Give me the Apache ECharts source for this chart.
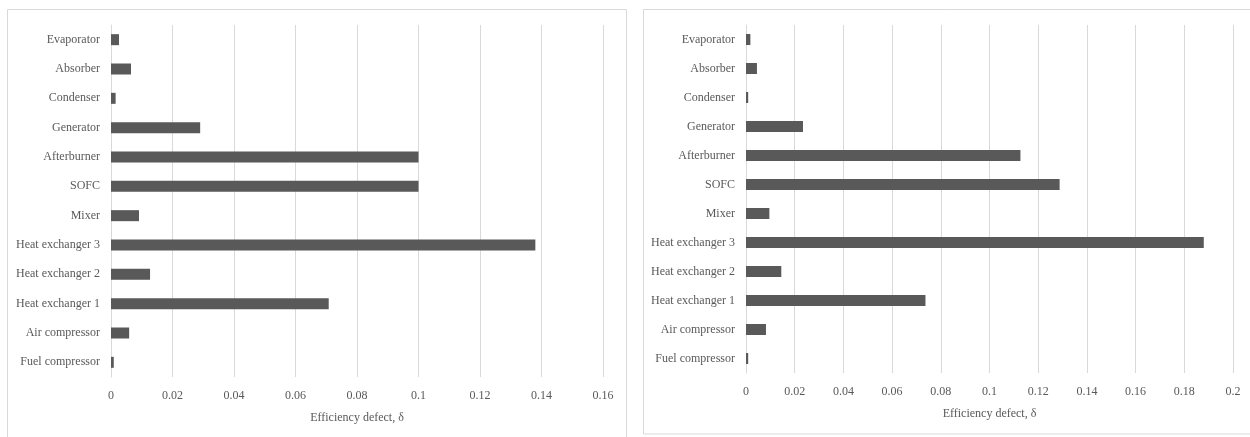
<!DOCTYPE html>
<html>
<head>
<meta charset="utf-8">
<script src="https://cdn.jsdelivr.net/npm/echarts@6/dist/echarts.min.js"></script>
<style>
html,body{margin:0;padding:0;background:#fff;}
#chart{width:1250px;height:437px;}
</style>
</head>
<body>
<div id="chart"></div>
<script>
const categories = ["Evaporator","Absorber","Condenser","Generator","Afterburner","SOFC","Mixer","Heat exchanger 3","Heat exchanger 2","Heat exchanger 1","Air compressor","Fuel compressor"];
const leftValues = [0.0026,0.0065,0.0015,0.029,0.1,0.1,0.0091,0.138,0.0127,0.0708,0.0059,0.0009];
const rightValues = [0.0018,0.0045,0.0009,0.0234,0.1127,0.1288,0.0096,0.188,0.0145,0.0737,0.0082,0.0009];
const axisTitle = "Efficiency defect, δ";
const leftMax = 0.16, rightMax = 0.2, tickStep = 0.02;

const FONT = "'Liberation Serif', serif";
const TXT = "#595959";
const GRID = "#d9d9d9";
const BAR = "#595959";

function xAxis(gridIndex, max, nameGap){
  return {
    type:'value', gridIndex, min:0, max, interval:tickStep,
    axisLine:{show:false}, axisTick:{show:false},
    splitLine:{lineStyle:{color:GRID,width:1}},
    axisLabel:{color:TXT,fontFamily:FONT,fontSize:12,margin:13},
    name:axisTitle, nameLocation:'middle', nameGap,
    nameTextStyle:{color:TXT,fontFamily:FONT,fontSize:12}
  };
}
function yAxis(gridIndex){
  return {
    type:'category', gridIndex, data:categories, inverse:true,
    axisLine:{show:true,lineStyle:{color:GRID}}, axisTick:{show:false},
    axisLabel:{color:TXT,fontFamily:FONT,fontSize:12,margin:11}
  };
}
const chart = echarts.init(document.getElementById('chart'));
chart.setOption({
  animation:false,
  backgroundColor:'#fff',
  graphic:[
    {type:'rect',shape:{x:7.5,y:9.5,width:619,height:440},style:{fill:'none',stroke:GRID,lineWidth:1},z:-1},
    {type:'rect',shape:{x:643.5,y:9.5,width:620,height:424.5},style:{fill:'none',stroke:GRID,lineWidth:1},z:-1}
  ],
  grid:[
    {left:111,width:492,top:25,height:352},
    {left:746,width:487,top:25,height:348}
  ],
  xAxis:[xAxis(0,leftMax,35),xAxis(1,rightMax,35)],
  yAxis:[yAxis(0),yAxis(1)],
  series:[
    {type:'bar',xAxisIndex:0,yAxisIndex:0,data:leftValues,barWidth:11,itemStyle:{color:BAR}},
    {type:'bar',xAxisIndex:1,yAxisIndex:1,data:rightValues,barWidth:11,itemStyle:{color:BAR}}
  ]
});
</script>
</body>
</html>
